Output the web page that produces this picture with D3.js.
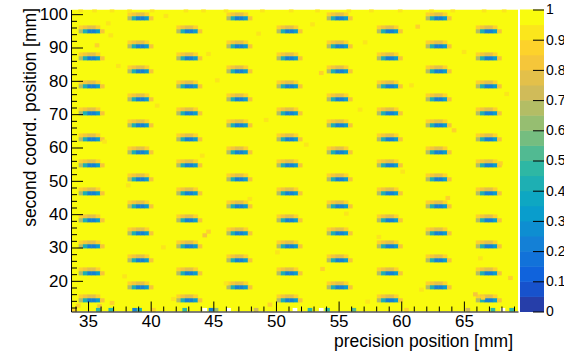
<!DOCTYPE html>
<html>
<head>
<meta charset="utf-8">
<script src="https://cdn.jsdelivr.net/npm/d3@7"></script>
<style>
  body { margin: 0; background: #fff; }
  text { font-family: "Liberation Sans", Arial, Helvetica, sans-serif; fill: #000; }
</style>
</head>
<body>
<div id="chart"></div>
<script>
// tick labels
const xTicks = [35, 40, 45, 50, 55, 60, 65];
const yTicks = [20, 30, 40, 50, 60, 70, 80, 90, 100];
const zTicks = [0, 0.1, 0.2, 0.3, 0.4, 0.5, 0.6, 0.7, 0.8, 0.9, 1];

// marker (low efficiency) positions, two staggered column families
const colsA = [35.1, 42.9, 50.9, 58.9, 66.8];
const rowsA = [14.2, 22.3, 30.4, 38.2, 46.3, 54.7, 62.5, 70.3, 78.4, 86.8, 94.9];
const colsB = [39.0, 46.9, 54.9, 62.8];
const rowsB = [18.1, 26.2, 34.3, 42.4, 50.5, 58.6, 66.7, 74.5, 82.9, 90.4, 98.8];

// efficiency around one marker, bins relative to its centre
const markerDx  = [-2, -1, 0, 1, 2, 3];
const markerTop = [0.88, 0.8, 0.76, 0.78, 0.86, null];
const markerMid = [0.68, 0.4, 0.2, 0.2, 0.34, 0.82];

// scattered slightly inefficient bins [x, y, eff]
const noise = [
  [36.6, 97.3, 0.9], [36.8, 93.7, 0.92], [35.7, 90.7, 0.88], [44.6, 88.1, 0.9],
  [41.2, 99.5, 0.92], [48.6, 94.2, 0.9], [52.9, 97.0, 0.92], [57.1, 91.6, 0.9],
  [61.3, 96.3, 0.88], [65.0, 88.7, 0.9], [37.4, 84.5, 0.92], [45.3, 80.2, 0.9],
  [53.6, 82.4, 0.88], [60.8, 78.7, 0.92], [68.4, 76.1, 0.9], [40.5, 72.6, 0.9],
  [49.2, 68.3, 0.92], [56.7, 71.4, 0.9], [64.2, 65.2, 0.88], [36.3, 61.8, 0.9],
  [44.1, 57.6, 0.92], [52.4, 60.9, 0.9], [60.1, 52.8, 0.92], [67.9, 55.3, 0.88],
  [38.2, 48.7, 0.9], [47.9, 44.6, 0.92], [55.6, 40.2, 0.9], [63.7, 44.9, 0.88],
  [44.3, 33.7, 0.84], [44.6, 34.8, 0.88], [41.0, 30.1, 0.92], [50.1, 28.6, 0.9],
  [58.2, 33.2, 0.92], [66.3, 26.8, 0.9], [37.9, 21.4, 0.9], [46.0, 19.3, 0.92],
  [53.7, 23.6, 0.88], [61.6, 17.4, 0.9], [68.7, 20.9, 0.88], [36.9, 13.4, 0.88],
  [41.8, 14.6, 0.9], [49.5, 12.9, 0.88], [57.3, 13.8, 0.9], [65.9, 16.0, 0.84],
  [66.5, 15.0, 0.88], [34.2, 12.6, 0.86], [35.9, 12.4, 0.84]
];

// bottom (partial) row of bins [x, eff]; null = empty bin
const bottomRow = [
  [33.9, 0.85], [35.8, 0.45], [36.8, 0.45], [38.7, 0.22], [39.1, 0.4],
  [40.2, 0.85], [42.7, 0.45], [44.3, null], [44.8, 0.24], [45.2, 0.6],
  [46.2, null], [48.4, 0.7], [51.5, null], [52.7, 0.45], [53.6, null],
  [54.1, 0.45], [56.2, 0.5], [60.4, 0.85], [65.3, 0.7], [67.3, 0.45],
  [68.1, null], [68.8, 0.45]
];

// top (partial) row of bins, x positions at eff ~0.9
const topRow = [34.4, 35.5, 36.9, 38.3, 40.1, 42.8, 44.2, 46.0, 48.9, 51.2,
                53.3, 55.8, 57.6, 59.9, 62.4, 64.1, 66.6, 68.2];

// ROOT kBird palette
const birdStops = [0, 0.125, 0.25, 0.375, 0.5, 0.625, 0.75, 0.875, 1];
const birdR = [0.2082, 0.0592, 0.0780, 0.0232, 0.1802, 0.5301, 0.8186, 0.9956, 0.9764];
const birdG = [0.1664, 0.3599, 0.5041, 0.6419, 0.7178, 0.7492, 0.7328, 0.7862, 0.9832];
const birdB = [0.5293, 0.8684, 0.8385, 0.7914, 0.6425, 0.4662, 0.3499, 0.1968, 0.0539];
const nBands = 20;

const width = 564, height = 354;
const plot = { left: 71, right: 518, top: 9.5, bottom: 311.5 };
const bar = { left: 520, right: 544 };
const binW = 0.34, binH = 1.15;

const birdR_s = d3.scaleLinear().domain(birdStops).range(birdR);
const birdG_s = d3.scaleLinear().domain(birdStops).range(birdG);
const birdB_s = d3.scaleLinear().domain(birdStops).range(birdB);
function bird(t) {
  return d3.rgb(birdR_s(t) * 255, birdG_s(t) * 255, birdB_s(t) * 255).toString();
}
const bandColors = d3.range(nBands).map(i => bird((i + 0.99) / nBands));
const color = v => v == null ? "#ffffff" : bandColors[Math.min(nBands - 1, Math.floor(v * nBands))];

const x = d3.scaleLinear().domain([33.64, 69.32]).range([plot.left, plot.right]);
const y = d3.scaleLinear().domain([10.8, 101.4]).range([plot.bottom, plot.top]);
const z = d3.scaleLinear().domain([0, 1]).range([plot.bottom, plot.top]);

// collect bins
const cells = [];
function addMarker(cx, cy) {
  markerDx.forEach((dx, i) => {
    if (markerTop[i] != null) cells.push({ x: cx + dx * binW, y: cy + binH, v: markerTop[i] });
    if (markerMid[i] != null) cells.push({ x: cx + dx * binW, y: cy, v: markerMid[i] });
  });
}
colsA.forEach(cx => rowsA.forEach(cy => addMarker(cx, cy)));
colsB.forEach(cx => rowsB.forEach(cy => addMarker(cx, cy)));
noise.forEach(d => cells.push({ x: d[0], y: d[1], v: d[2] }));
bottomRow.forEach(d => cells.push({ x: d[0], y: 11.3, v: d[1] }));
topRow.forEach(xx => cells.push({ x: xx, y: 101.2, v: 0.9 }));

const svg = d3.select("#chart").append("svg")
  .attr("width", width).attr("height", height);

svg.append("clipPath").attr("id", "clip")
  .append("rect")
  .attr("x", plot.left).attr("y", plot.top)
  .attr("width", plot.right - plot.left).attr("height", plot.bottom - plot.top);

const g = svg.append("g").attr("clip-path", "url(#clip)");
g.append("rect")
  .attr("x", plot.left).attr("y", plot.top)
  .attr("width", plot.right - plot.left).attr("height", plot.bottom - plot.top)
  .attr("fill", color(1));

// small overlap so neighbouring bins leave no seams
g.selectAll("rect.bin").data(cells).join("rect")
  .attr("class", "bin")
  .attr("x", d => x(d.x - binW / 2))
  .attr("y", d => y(d.y + binH / 2))
  .attr("width", x(binW) - x(0) + 0.4)
  .attr("height", y(0) - y(binH) + 0.3)
  .attr("fill", d => color(d.v));

// axes
const xMinor = d3.range(34, 70).filter(v => v % 5 !== 0);
const yMinor = d3.range(12, 101, 2).filter(v => v % 10 !== 0);

svg.append("g")
  .attr("transform", `translate(0,${plot.bottom})`)
  .call(d3.axisBottom(x).tickValues(xMinor).tickSize(-5).tickFormat(""))
  .call(a => a.select(".domain").remove());
svg.append("g")
  .attr("transform", `translate(0,${plot.bottom})`)
  .call(d3.axisBottom(x).tickValues(xTicks).tickSizeInner(-10).tickSizeOuter(0).tickPadding(3))
  .call(a => a.selectAll("text").style("font-size", "17px"));

svg.append("g")
  .attr("transform", `translate(${plot.left},0)`)
  .call(d3.axisLeft(y).tickValues(yMinor).tickSize(-6).tickFormat(""))
  .call(a => a.select(".domain").remove());
svg.append("g")
  .attr("transform", `translate(${plot.left},0)`)
  .call(d3.axisLeft(y).tickValues(yTicks).tickSizeInner(-12).tickSizeOuter(0).tickPadding(3))
  .call(a => a.selectAll("text").style("font-size", "17px"));

// colour bar
svg.append("g").selectAll("rect").data(bandColors).join("rect")
  .attr("x", bar.left)
  .attr("y", (d, i) => z((i + 1) / nBands))
  .attr("width", bar.right - bar.left)
  .attr("height", z(0) - z(1 / nBands) + 0.5)
  .attr("fill", d => d);

svg.append("g")
  .attr("transform", `translate(${bar.right},0)`)
  .call(d3.axisRight(z).tickValues(zTicks).tickSizeInner(-11).tickSizeOuter(0).tickPadding(2)
    .tickFormat(d3.format("~g")))
  .call(a => a.select(".domain").remove())
  .call(a => a.selectAll("text").style("font-size", "14px"));

// titles
svg.append("text")
  .attr("x", 513).attr("y", 347)
  .attr("text-anchor", "end")
  .style("font-size", "17.5px")
  .text("precision position [mm]");

svg.append("text")
  .attr("transform", "translate(36,8) rotate(-90)")
  .attr("text-anchor", "end")
  .style("font-size", "17.5px")
  .text("second coord. position [mm]");
</script>
</body>
</html>
